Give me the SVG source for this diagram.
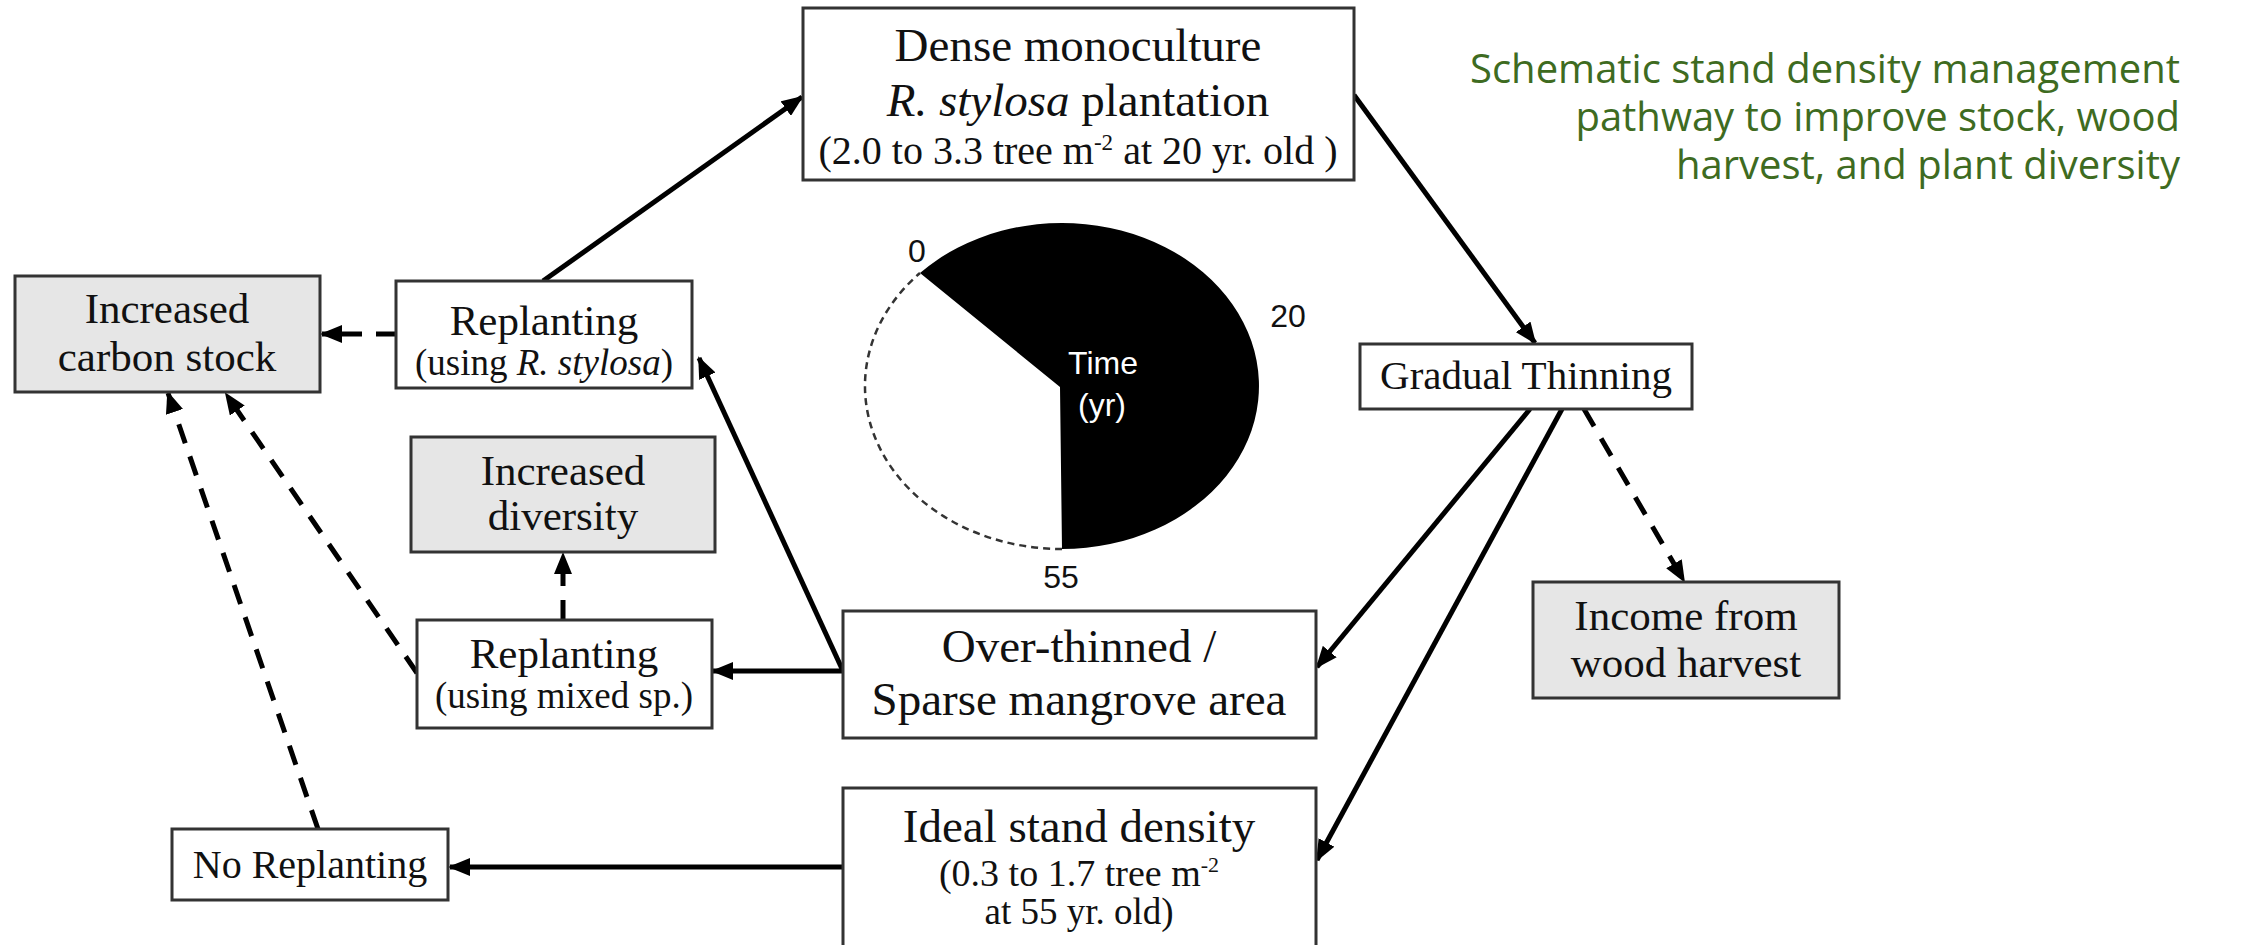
<svg xmlns="http://www.w3.org/2000/svg" width="2243" height="945" viewBox="0 0 2243 945">
<style>
.box{fill:#fff;stroke:#333;stroke-width:3}
.gbox{fill:#e6e6e6;stroke:#333;stroke-width:3}
.t{font-family:"Liberation Serif","Times New Roman",serif;fill:#111;text-anchor:middle}
.m{font-size:43px}
.s{font-size:37px}
.big{font-size:47px}
.lab{font-family:"Liberation Sans",Arial,sans-serif;font-size:32px;fill:#111;text-anchor:middle}
.solid{stroke:#000;stroke-width:5;fill:none;marker-end:url(#ah)}
.dash{stroke:#000;stroke-width:5;fill:none;stroke-dasharray:20 14;marker-end:url(#ah)}
.title{font-family:"Open Sans","Noto Sans",sans-serif;font-size:40px;fill:#3e6b21;text-anchor:end}
</style>
<defs>
<marker id="ah" markerUnits="userSpaceOnUse" markerWidth="22" markerHeight="18" refX="20" refY="9" orient="auto">
<path d="M0,0 L22,9 L0,18 z" fill="#000"/>
</marker>
</defs>
<rect width="2243" height="945" fill="#fff"/>

<g id="title">
<text class="title" x="2180" y="83">Schematic stand density management</text>
<text class="title" x="2180" y="131">pathway to improve stock, wood</text>
<text class="title" x="2180" y="179">harvest, and plant diversity</text>
</g>

<g id="connectors">
<line class="solid" x1="543" y1="281" x2="802" y2="97"/>
<line class="solid" x1="1354" y1="95" x2="1535" y2="343"/>
<line class="solid" x1="1530" y1="409" x2="1317" y2="667"/>
<line class="solid" x1="1562" y1="409" x2="1317" y2="860"/>
<line class="dash" x1="1584" y1="409" x2="1684" y2="581"/>
<line class="solid" x1="843" y1="671" x2="699" y2="358"/>
<line class="solid" x1="843" y1="671" x2="713" y2="671"/>
<line class="dash" x1="563" y1="620" x2="563" y2="554"/>
<line class="dash" x1="417" y1="673" x2="226" y2="394"/>
<line class="dash" x1="318" y1="829" x2="168" y2="393"/>
<line class="solid" x1="843" y1="867" x2="450" y2="867"/>
<line class="dash" x1="396" y1="334" x2="322" y2="334"/>
</g>

<g id="dense">
<rect class="box" x="803" y="8" width="551" height="172"/>
<text class="t big" x="1078" y="61">Dense monoculture</text>
<text class="t big" x="1078" y="116"><tspan font-style="italic">R. stylosa</tspan> plantation</text>
<text class="t" font-size="40" x="1078" y="164">(2.0 to 3.3 tree m<tspan font-size="23" dy="-14">-2</tspan><tspan dy="14"> at 20 yr. old )</tspan></text>
</g>

<g id="carbon">
<rect class="gbox" x="15" y="276" width="305" height="116"/>
<text class="t m" x="167" y="323">Increased</text>
<text class="t m" x="167" y="371">carbon stock</text>
</g>

<g id="replant-rs">
<rect class="box" x="396" y="281" width="296" height="107"/>
<text class="t m" x="544" y="335">Replanting</text>
<text class="t s" x="544" y="375">(using <tspan font-style="italic">R. stylosa</tspan>)</text>
</g>

<g id="clock">
<path d="M1060,387 L920,273 A197,163 0 1,1 1062,549 Z" fill="#000"/>
<path d="M1062,549 A197,163 0 0,1 920,273" fill="none" stroke="#333" stroke-width="2.5" stroke-dasharray="7 5"/>
<text class="lab" x="1103" y="374" style="fill:#fff">Time</text>
<text class="lab" x="1102" y="416" style="fill:#fff">(yr)</text>
<text class="lab" x="917" y="262">0</text>
<text class="lab" x="1288" y="327">20</text>
<text class="lab" x="1061" y="588">55</text>
</g>

<g id="gradual">
<rect class="box" x="1360" y="344" width="332" height="65"/>
<text class="t" font-size="41" x="1526" y="389">Gradual Thinning</text>
</g>

<g id="income">
<rect class="gbox" x="1533" y="582" width="306" height="116"/>
<text class="t m" x="1686" y="630">Income from</text>
<text class="t m" x="1686" y="677">wood harvest</text>
</g>

<g id="diversity">
<rect class="gbox" x="411" y="437" width="304" height="115"/>
<text class="t m" x="563" y="485">Increased</text>
<text class="t m" x="563" y="530">diversity</text>
</g>

<g id="replant-mixed">
<rect class="box" x="417" y="620" width="295" height="108"/>
<text class="t m" x="564" y="668">Replanting</text>
<text class="t s" x="564" y="708">(using mixed sp.)</text>
</g>

<g id="overthinned">
<rect class="box" x="843" y="611" width="473" height="127"/>
<text class="t big" x="1079" y="662">Over-thinned /</text>
<text class="t big" x="1079" y="715">Sparse mangrove area</text>
</g>

<g id="ideal">
<rect class="box" x="843" y="788" width="473" height="160"/>
<text class="t big" x="1079" y="842">Ideal stand density</text>
<text class="t" font-size="38" x="1079" y="886">(0.3 to 1.7 tree m<tspan font-size="22" dy="-14">-2</tspan></text>
<text class="t s" x="1079" y="924">at 55 yr. old)</text>
</g>

<g id="no-replant">
<rect class="box" x="172" y="829" width="276" height="71"/>
<text class="t" font-size="40" x="310" y="878">No Replanting</text>
</g>
</svg>
